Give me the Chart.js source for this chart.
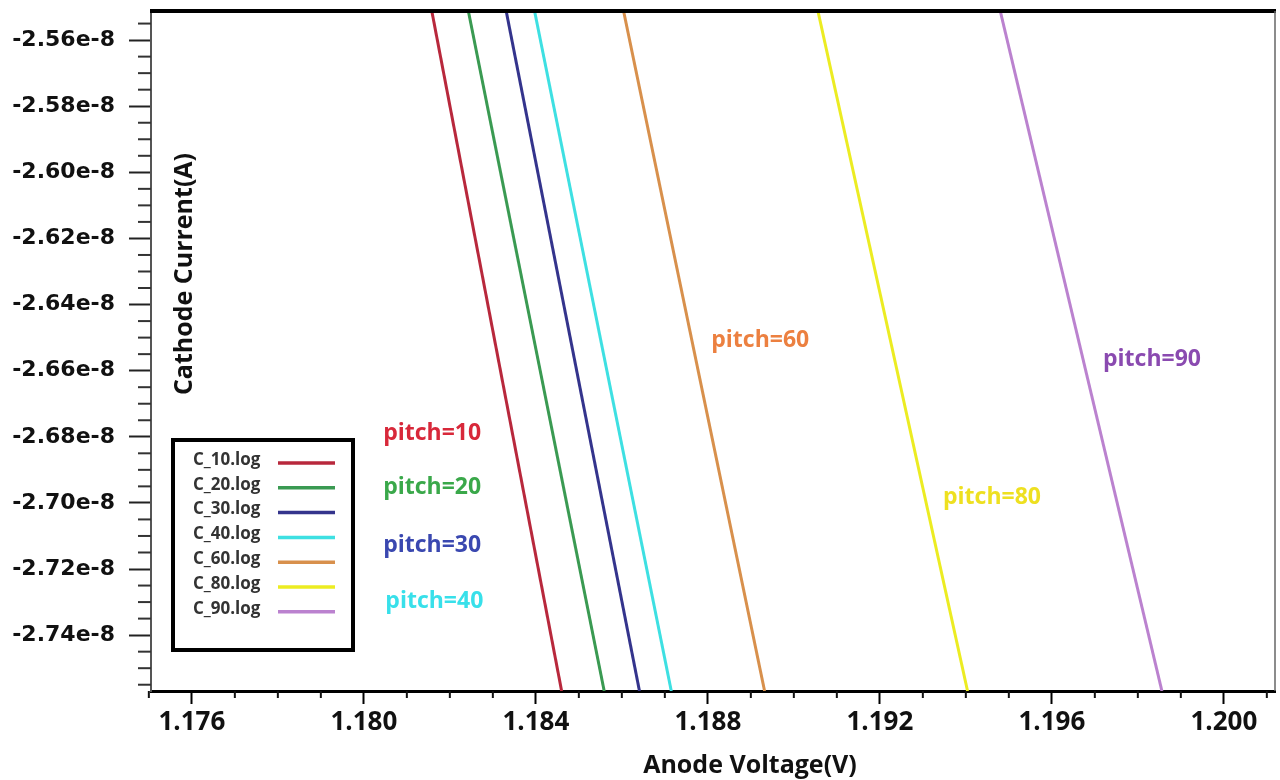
<!DOCTYPE html>
<html>
<head>
<meta charset="utf-8">
<script src="https://cdn.jsdelivr.net/npm/chart.js@4"></script>
<style>
  html, body { margin: 0; padding: 0; background: #fff; }
  #chart { display: block; }
</style>
</head>
<body>
<canvas id="chart" width="1280" height="780"></canvas>
<script>
// series: each log file is a straight I-V segment
const seriesNames = ['C_10.log', 'C_20.log', 'C_30.log', 'C_40.log', 'C_60.log', 'C_80.log', 'C_90.log'];
const currentEnds = [-2.5512e-8, -2.7569e-8];
const voltageTop = [1.18158, 1.18243, 1.18331, 1.18397, 1.18604, 1.19056, 1.19480];
const voltageBottom = [1.18460, 1.18559, 1.18641, 1.18715, 1.18932, 1.19404, 1.19856];
const lineColors = ['#b8283c', '#3a9a52', '#34348c', '#3ee0e2', '#d8904c', '#ecec22', '#bb82cf'];

// in-plot notes
const pitchLabels = ['pitch=10', 'pitch=20', 'pitch=30', 'pitch=40', 'pitch=60', 'pitch=80', 'pitch=90'];
const pitchVoltage = [1.18045, 1.18045, 1.18045, 1.18050, 1.18808, 1.19347, 1.19719];
const pitchCurrent = [-2.6789e-8, -2.6953e-8, -2.7128e-8, -2.7297e-8, -2.6508e-8, -2.6983e-8, -2.6565e-8];
const pitchColors = ['#d8283a', '#3aa84a', '#3a48b0', '#38e0ea', '#ec8040', '#eee020', '#8a4ab0'];

// axes
const xTickValues = [1.176, 1.180, 1.184, 1.188, 1.192, 1.196, 1.200];
const yTickValues = [-2.56e-8, -2.58e-8, -2.60e-8, -2.62e-8, -2.64e-8, -2.66e-8, -2.68e-8, -2.70e-8, -2.72e-8, -2.74e-8];
const xRange = [1.17505, 1.20119];
const yRange = [-2.7569e-8, -2.5512e-8];

const datasets = seriesNames.map((name, i) => ({
    label: name,
    data: [{x: voltageTop[i], y: currentEnds[0]}, {x: voltageBottom[i], y: currentEnds[1]}],
    borderColor: lineColors[i],
    backgroundColor: lineColors[i],
    borderWidth: 3,
    pointRadius: 0,
    tension: 0
}));

// minor ticks, top / right frame, titles
const framePlugin = {
    id: 'frame',
    afterDraw(chart) {
        const ctx = chart.ctx;
        const a = chart.chartArea;
        const xs = chart.scales.x, ys = chart.scales.y;
        ctx.save();
        ctx.lineWidth = 2;
        ctx.strokeStyle = '#111';
        for (let i = 1175; i <= 1201; i++) {
            if (i % 4 === 0) continue;
            const px = xs.getPixelForValue(i / 1000);
            ctx.beginPath();
            ctx.moveTo(px, a.bottom);
            ctx.lineTo(px, a.bottom + 7);
            ctx.stroke();
        }
        ctx.strokeStyle = '#333';
        for (let i = -2755; i <= -2555; i += 5) {
            if (i % 20 === 0) continue;
            const py = ys.getPixelForValue(i * 1e-11);
            ctx.beginPath();
            ctx.moveTo(a.left - 13, py);
            ctx.lineTo(a.left, py);
            ctx.stroke();
        }
        // top + right border
        ctx.strokeStyle = '#000';
        ctx.lineWidth = 4;
        ctx.beginPath();
        ctx.moveTo(a.left - 1, a.top);
        ctx.lineTo(a.right + 1, a.top);
        ctx.stroke();
        ctx.strokeStyle = '#666';
        ctx.lineWidth = 1.5;
        ctx.beginPath();
        ctx.moveTo(a.right, a.top);
        ctx.lineTo(a.right, a.bottom);
        ctx.stroke();

        // axis titles
        ctx.fillStyle = '#111';
        ctx.font = 'bold 25px "Open Sans"';
        ctx.textAlign = 'center';
        ctx.textBaseline = 'middle';
        ctx.fillText('Anode Voltage(V)', 750, 766);
        ctx.translate(185, 274);
        ctx.rotate(-Math.PI / 2);
        ctx.font = 'bold 25px "Open Sans"';
        ctx.fillText('Cathode Current(A)', 0, 0);
        ctx.restore();
    }
};

// pitch annotations, placed through the scales
const notesPlugin = {
    id: 'notes',
    afterDatasetsDraw(chart) {
        const ctx = chart.ctx;
        const xs = chart.scales.x, ys = chart.scales.y;
        ctx.save();
        ctx.font = 'bold 23px "Open Sans"';
        ctx.textAlign = 'left';
        ctx.textBaseline = 'middle';
        pitchLabels.forEach((t, i) => {
            ctx.fillStyle = pitchColors[i];
            ctx.fillText(t, xs.getPixelForValue(pitchVoltage[i]), ys.getPixelForValue(pitchCurrent[i]));
        });
        ctx.restore();
    }
};

// boxed legend in lower-left of the plot
const boxLegend = {
    id: 'boxLegend',
    afterDatasetsDraw(chart) {
        const ctx = chart.ctx;
        const a = chart.chartArea;
        const bx = a.left + 22, by = a.bottom - 251, bw = 180, bh = 210;
        ctx.save();
        ctx.fillStyle = '#fff';
        ctx.fillRect(bx, by, bw, bh);
        ctx.lineWidth = 4;
        ctx.strokeStyle = '#000';
        ctx.strokeRect(bx, by, bw, bh);
        ctx.font = 'bold 17px "Open Sans"';
        ctx.textAlign = 'left';
        ctx.textBaseline = 'middle';
        chart.data.datasets.forEach((ds, i) => {
            const y = by + 22 + i * 24.8;
            ctx.fillStyle = '#333';
            ctx.fillText(ds.label, bx + 20, y - 2);
            ctx.strokeStyle = ds.borderColor;
            ctx.lineWidth = 3.5;
            ctx.beginPath();
            ctx.moveTo(bx + 105, y + 1);
            ctx.lineTo(bx + 162, y + 1);
            ctx.stroke();
        });
        ctx.restore();
    }
};

new Chart(document.getElementById('chart').getContext('2d'), {
    type: 'line',
    data: { datasets: datasets },
    options: {
        responsive: false,
        animation: false,
        devicePixelRatio: 1,
        layout: { padding: { top: 11, right: 5, left: 0, bottom: 0 } },
        plugins: { legend: { display: false }, tooltip: { enabled: false } },
        scales: {
            x: {
                type: 'linear',
                min: xRange[0],
                max: xRange[1],
                afterBuildTicks: s => { s.ticks = xTickValues.map(v => ({value: v})); },
                afterFit: s => { s.height = 89; s.paddingLeft = 0; s.paddingRight = 0; },
                ticks: {
                    callback: v => v.toFixed(3),
                    font: { family: 'Open Sans', weight: 'bold', size: 26 },
                    color: '#111',
                    padding: 3,
                    maxRotation: 0
                },
                grid: { drawOnChartArea: false, tickLength: 13, tickWidth: 2, tickColor: '#000' },
                border: { color: '#000', width: 3 }
            },
            y: {
                type: 'linear',
                min: yRange[0],
                max: yRange[1],
                afterBuildTicks: s => { s.ticks = yTickValues.map(v => ({value: v})); },
                afterFit: s => { s.width = 151; s.paddingTop = 0; s.paddingBottom = 0; },
                ticks: {
                    callback: v => (v * 1e8).toFixed(2) + 'e-8',
                    font: { family: 'DejaVu Sans', weight: 'bold', size: 22 },
                    color: '#111',
                    padding: 14
                },
                grid: { drawOnChartArea: false, tickLength: 22, tickWidth: 2, tickColor: '#222' },
                border: { color: '#555', width: 2 }
            }
        }
    },
    plugins: [notesPlugin, boxLegend, framePlugin]
});
</script>
</body>
</html>
